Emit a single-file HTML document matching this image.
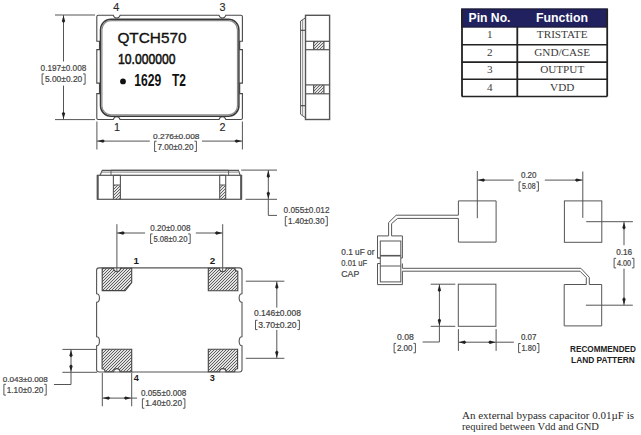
<!DOCTYPE html><html><head><meta charset="utf-8"><style>html,body{margin:0;padding:0;background:#fff;width:641px;height:435px;overflow:hidden}svg{display:block}</style></head><body>
<svg width="641" height="435" viewBox="0 0 641 435">
<defs><pattern id="h" patternUnits="userSpaceOnUse" x="0" y="0" width="3" height="3"><rect width="3" height="3" fill="#e2e2e2"/><rect x="2" y="0" width="1" height="1" fill="#5e5e5e"/><rect x="1" y="1" width="1" height="1" fill="#5e5e5e"/><rect x="0" y="2" width="1" height="1" fill="#5e5e5e"/></pattern><pattern id="h2" patternUnits="userSpaceOnUse" x="0" y="0" width="3" height="3"><rect width="3" height="3" fill="#e6e6e6"/><rect x="2" y="0" width="1" height="1" fill="#666"/><rect x="1" y="1" width="1" height="1" fill="#666"/><rect x="0" y="2" width="1" height="1" fill="#666"/></pattern></defs>
<rect width="641" height="435" fill="#fff"/>
<path d="M98.3,15.3 H113.3 C114.5,18.9 118.9,18.9 120.1,15.3 H219.0 C220.2,18.9 224.6,18.9 225.8,15.3 H240.9 Q242.4,15.3 242.4,16.8 V41.3 H239.7 V49.6 H242.4 V83.1 H239.7 V93.6 H242.4 V118.0 Q242.4,119.5 240.9,119.5 H225.8 C224.6,115.9 220.2,115.9 219.0,119.5 H120.1 C118.9,115.9 114.5,115.9 113.3,119.5 H98.3 Q96.8,119.5 96.8,118.0 V93.6 H99.5 V83.1 H96.8 V49.6 H99.5 V41.3 H96.8 V16.8 Q96.8,15.3 98.3,15.3 Z" fill="none" stroke="#484848" stroke-width="1.1"/>
<rect x="100.5" y="19.2" width="138.4" height="97.0" rx="10.5" ry="10.5" fill="#fff" stroke="#3a3a3a" stroke-width="1.5"/>
<rect x="101.9" y="20.6" width="135.6" height="94.2" rx="9.1" ry="9.1" fill="none" stroke="#8a8a8a" stroke-width="1.2"/>
<text x="117.4" y="43.2" font-family="Liberation Sans" font-size="15.36" font-weight="normal" fill="#111" text-anchor="start" textLength="69.2" lengthAdjust="spacingAndGlyphs" stroke="#111" stroke-width="0.35">QTCH570</text>
<text x="118" y="64.2" font-family="Liberation Sans" font-size="15.36" font-weight="normal" fill="#111" text-anchor="start" textLength="57.4" lengthAdjust="spacingAndGlyphs" stroke="#111" stroke-width="0.6">10.000000</text>
<circle cx="123" cy="81.4" r="2.9" fill="#111"/>
<text x="134.2" y="85.9" font-family="Liberation Sans" font-size="15.94" font-weight="bold" fill="#111" text-anchor="start" textLength="27" lengthAdjust="spacingAndGlyphs">1629</text>
<text x="172.0" y="85.9" font-family="Liberation Sans" font-size="15.94" font-weight="bold" fill="#111" text-anchor="start" textLength="14.0" lengthAdjust="spacingAndGlyphs">T2</text>
<text x="116.3" y="10.9" font-family="Liberation Sans" font-size="10.80" font-weight="normal" fill="#2a2a2a" text-anchor="middle" stroke="#2a2a2a" stroke-width="0.15">4</text>
<text x="222.4" y="10.9" font-family="Liberation Sans" font-size="10.80" font-weight="normal" fill="#2a2a2a" text-anchor="middle" stroke="#2a2a2a" stroke-width="0.15">3</text>
<text x="117.0" y="131.2" font-family="Liberation Sans" font-size="10.80" font-weight="normal" fill="#2a2a2a" text-anchor="middle" stroke="#2a2a2a" stroke-width="0.15">1</text>
<text x="222.5" y="131.2" font-family="Liberation Sans" font-size="10.80" font-weight="normal" fill="#2a2a2a" text-anchor="middle" stroke="#2a2a2a" stroke-width="0.15">2</text>
<line x1="55" y1="15.0" x2="95" y2="15.0" stroke="#555" stroke-width="1"/>
<line x1="55" y1="119.6" x2="95" y2="119.6" stroke="#555" stroke-width="1"/>
<line x1="63.5" y1="15" x2="63.5" y2="61.5" stroke="#555" stroke-width="1"/>
<line x1="63.5" y1="85.6" x2="63.5" y2="119.6" stroke="#555" stroke-width="1"/>
<polygon points="63.50,15.50 61.80,21.30 63.50,22.90 65.20,21.30" fill="#222"/>
<polygon points="63.50,119.10 61.80,113.30 63.50,111.70 65.20,113.30" fill="#222"/>
<text x="40.6" y="71.2" font-family="Liberation Sans" font-size="9.86" font-weight="normal" fill="#444" text-anchor="start" textLength="45.7" lengthAdjust="spacingAndGlyphs" stroke="#444" stroke-width="0.22">0.197±0.008</text>
<path d="M44.1,73.9 H42.1 V84.2 H44.1" fill="none" stroke="#444" stroke-width="0.9"/>
<path d="M83.1,73.9 H85.1 V84.2 H83.1" fill="none" stroke="#444" stroke-width="0.9"/>
<text x="44.9" y="82.2" font-family="Liberation Sans" font-size="8.70" font-weight="normal" fill="#444" text-anchor="start" textLength="37.4" lengthAdjust="spacingAndGlyphs" stroke="#444" stroke-width="0.22">5.00±0.20</text>
<line x1="96.9" y1="121.5" x2="96.9" y2="149.5" stroke="#555" stroke-width="1"/>
<line x1="242.4" y1="121.5" x2="242.4" y2="149.5" stroke="#555" stroke-width="1"/>
<line x1="96.9" y1="141.1" x2="149.8" y2="141.1" stroke="#555" stroke-width="1"/>
<line x1="202" y1="141.1" x2="242.4" y2="141.1" stroke="#555" stroke-width="1"/>
<polygon points="97.40,141.10 103.20,139.40 104.80,141.10 103.20,142.80" fill="#222"/>
<polygon points="241.90,141.10 236.10,139.40 234.50,141.10 236.10,142.80" fill="#222"/>
<text x="153.1" y="138.6" font-family="Liberation Sans" font-size="7.98" font-weight="normal" fill="#444" text-anchor="start" textLength="46.4" lengthAdjust="spacingAndGlyphs" stroke="#444" stroke-width="0.22">0.276±0.008</text>
<path d="M156.6,141.2 H154.6 V151.5 H156.6" fill="none" stroke="#444" stroke-width="0.9"/>
<path d="M194.4,141.2 H196.4 V151.5 H194.4" fill="none" stroke="#444" stroke-width="0.9"/>
<text x="157.4" y="149.5" font-family="Liberation Sans" font-size="8.70" font-weight="normal" fill="#444" text-anchor="start" textLength="36.2" lengthAdjust="spacingAndGlyphs" stroke="#444" stroke-width="0.22">7.00±0.20</text>
<rect x="305.5" y="15.3" width="24.1" height="104.2" fill="none" stroke="#555" stroke-width="1.4"/>
<path d="M305.5,17.8 L300.6,21 V114.3 L305.5,117.8" fill="none" stroke="#555" stroke-width="1"/>
<line x1="302.7" y1="19.6" x2="302.7" y2="115.7" stroke="#777" stroke-width="0.9"/>
<line x1="300.6" y1="30.3" x2="305.5" y2="30.3" stroke="#444" stroke-width="1.1"/>
<line x1="300.6" y1="105.7" x2="305.5" y2="105.7" stroke="#444" stroke-width="1.1"/>
<rect x="313.6" y="41.3" width="10.3" height="8.4" fill="url(#h2)"/>
<line x1="305.5" y1="41.3" x2="329.6" y2="41.3" stroke="#555" stroke-width="1.2"/>
<line x1="305.5" y1="49.7" x2="329.6" y2="49.7" stroke="#555" stroke-width="1.2"/>
<line x1="313.6" y1="41.3" x2="313.6" y2="49.7" stroke="#555" stroke-width="1.2"/>
<line x1="323.9" y1="41.3" x2="323.9" y2="49.7" stroke="#555" stroke-width="1.2"/>
<rect x="313.6" y="84.9" width="10.3" height="8.9" fill="url(#h2)"/>
<line x1="305.5" y1="84.9" x2="329.6" y2="84.9" stroke="#555" stroke-width="1.2"/>
<line x1="305.5" y1="93.8" x2="329.6" y2="93.8" stroke="#555" stroke-width="1.2"/>
<line x1="313.6" y1="84.9" x2="313.6" y2="93.8" stroke="#555" stroke-width="1.2"/>
<line x1="323.9" y1="84.9" x2="323.9" y2="93.8" stroke="#555" stroke-width="1.2"/>
<rect x="461.8" y="9" width="145.4" height="18" fill="#21215f" stroke="#1c1c3c" stroke-width="1.4"/>
<text x="489.5" y="21.8" font-family="Liberation Sans" font-size="12.32" font-weight="bold" fill="#fff" text-anchor="middle" textLength="41.9" lengthAdjust="spacingAndGlyphs">Pin No.</text>
<text x="562" y="21.8" font-family="Liberation Sans" font-size="12.32" font-weight="bold" fill="#fff" text-anchor="middle" textLength="52" lengthAdjust="spacingAndGlyphs">Function</text>
<line x1="461.8" y1="44.8" x2="607.2" y2="44.8" stroke="#222" stroke-width="1.6"/>
<line x1="461.8" y1="62.1" x2="607.2" y2="62.1" stroke="#222" stroke-width="1.6"/>
<line x1="461.8" y1="79.3" x2="607.2" y2="79.3" stroke="#222" stroke-width="1.6"/>
<line x1="461.8" y1="96.5" x2="607.2" y2="96.5" stroke="#222" stroke-width="1.6"/>
<path d="M462.0,9 V96.5 M607.2,9 V96.5 M517.3,27 V96.5" stroke="#222" stroke-width="1.8" fill="none"/>
<text x="489.8" y="38.3" font-family="Liberation Serif" font-size="11.20" font-weight="normal" fill="#3a3a3a" text-anchor="middle">1</text>
<text x="562.2" y="38.3" font-family="Liberation Serif" font-size="11.20" font-weight="normal" fill="#3a3a3a" text-anchor="middle">TRISTATE</text>
<text x="489.8" y="56.1" font-family="Liberation Serif" font-size="11.20" font-weight="normal" fill="#3a3a3a" text-anchor="middle">2</text>
<text x="562.2" y="56.1" font-family="Liberation Serif" font-size="11.20" font-weight="normal" fill="#3a3a3a" text-anchor="middle">GND/CASE</text>
<text x="489.8" y="73.4" font-family="Liberation Serif" font-size="11.20" font-weight="normal" fill="#3a3a3a" text-anchor="middle">3</text>
<text x="562.2" y="73.4" font-family="Liberation Serif" font-size="11.20" font-weight="normal" fill="#3a3a3a" text-anchor="middle">OUTPUT</text>
<text x="489.8" y="90.6" font-family="Liberation Serif" font-size="11.20" font-weight="normal" fill="#3a3a3a" text-anchor="middle">4</text>
<text x="562.2" y="90.6" font-family="Liberation Serif" font-size="11.20" font-weight="normal" fill="#3a3a3a" text-anchor="middle">VDD</text>
<rect x="97.5" y="175.3" width="143.7" height="24" fill="none" stroke="#555" stroke-width="1.2"/>
<line x1="97.7" y1="175" x2="97.7" y2="199.6" stroke="#555" stroke-width="2"/>
<line x1="241.2" y1="175" x2="241.2" y2="199.6" stroke="#555" stroke-width="2"/>
<path d="M100,175.3 L102.3,170.4 H238.4 L240.2,175.3" fill="none" stroke="#555" stroke-width="1.1"/>
<line x1="111" y1="170.4" x2="228.6" y2="170.4" stroke="#555" stroke-width="1.1"/>
<line x1="101.6" y1="172.1" x2="238.6" y2="172.1" stroke="#999" stroke-width="1.2"/>
<line x1="111" y1="170.4" x2="111" y2="175.3" stroke="#555" stroke-width="0.9"/>
<line x1="228.6" y1="170.4" x2="228.6" y2="175.3" stroke="#555" stroke-width="0.9"/>
<rect x="113.4" y="185" width="7.0" height="14.3" fill="url(#h2)"/>
<rect x="113.4" y="175.3" width="7.0" height="24" fill="none" stroke="#555" stroke-width="1.1"/>
<line x1="113.4" y1="185" x2="120.4" y2="185" stroke="#555" stroke-width="1"/>
<rect x="219.7" y="185" width="6.0" height="14.3" fill="url(#h2)"/>
<rect x="219.7" y="175.3" width="6.0" height="24" fill="none" stroke="#555" stroke-width="1.1"/>
<line x1="219.7" y1="185" x2="225.7" y2="185" stroke="#555" stroke-width="1"/>
<line x1="241.2" y1="170.1" x2="277" y2="170.1" stroke="#555" stroke-width="1"/>
<line x1="245.5" y1="199.3" x2="277" y2="199.3" stroke="#555" stroke-width="1"/>
<path d="M268.3,170.1 V215.4 H277" fill="none" stroke="#555" stroke-width="1"/>
<polygon points="268.30,170.60 266.60,176.40 268.30,178.00 270.00,176.40" fill="#222"/>
<polygon points="268.30,198.80 266.60,193.00 268.30,191.40 270.00,193.00" fill="#222"/>
<text x="283.6" y="213.2" font-family="Liberation Sans" font-size="9.70" font-weight="normal" fill="#444" text-anchor="start" textLength="45.9" lengthAdjust="spacingAndGlyphs" stroke="#444" stroke-width="0.22">0.055±0.012</text>
<path d="M287.3,216.6 H285.3 V225.9 H287.3" fill="none" stroke="#444" stroke-width="0.9"/>
<path d="M325.3,216.6 H327.3 V225.9 H325.3" fill="none" stroke="#444" stroke-width="0.9"/>
<text x="288.1" y="223.9" font-family="Liberation Sans" font-size="8.70" font-weight="normal" fill="#444" text-anchor="start" textLength="36.4" lengthAdjust="spacingAndGlyphs" stroke="#444" stroke-width="0.22">1.40±0.30</text>
<path d="M99.1,267.9 H239.5 Q242.0,267.9 242.0,270.4 V293.8 C238.2,293.8 238.2,302.2 242.0,302.2 V336.7 C238.2,336.7 238.2,345.8 242.0,345.8 V369.5 Q242.0,372.0 239.5,372.0 H99.1 Q96.6,372.0 96.6,369.5 V345.8 C100.4,345.8 100.4,336.7 96.6,336.7 V302.2 C100.4,302.2 100.4,293.8 96.6,293.8 V270.4 Q96.6,267.9 99.1,267.9 Z" fill="none" stroke="#555" stroke-width="1.1"/>
<path d="M102.2,268.2 H113.4 C114.4,273.0 119.6,273.0 120.6,268.2 H131.7 V282.6 L125.2,290.6 H102.2 Z" fill="url(#h)" stroke="#444" stroke-width="1.1"/>
<path d="M208.3,268.2 H219.2 C220.2,273.0 225.4,273.0 226.4,268.2 H234.8 Q234.8,271.2 237.8,271.2 V290.7 H208.3 Z" fill="url(#h)" stroke="#444" stroke-width="1.1"/>
<path d="M102.1,349.2 H131.7 V371.8 H120.0 A3.2,3.2 0 0 0 113.6,371.8 H105.1 Q105.1,368.8 102.1,368.8 Z" fill="url(#h)" stroke="#444" stroke-width="1.1"/>
<path d="M208.3,349.3 H237.6 V368.8 Q234.6,368.8 234.6,371.8 H226.0 A3.2,3.2 0 0 0 219.6,371.8 H208.3 Z" fill="url(#h)" stroke="#444" stroke-width="1.1"/>
<text x="136.2" y="263.7" font-family="Liberation Sans" font-size="9.86" font-weight="bold" fill="#1a1a1a" text-anchor="middle">1</text>
<text x="212.5" y="263.7" font-family="Liberation Sans" font-size="9.86" font-weight="bold" fill="#1a1a1a" text-anchor="middle">2</text>
<text x="136.2" y="381.2" font-family="Liberation Sans" font-size="9.13" font-weight="bold" fill="#1a1a1a" text-anchor="middle">4</text>
<text x="212.4" y="381.2" font-family="Liberation Sans" font-size="9.13" font-weight="bold" fill="#1a1a1a" text-anchor="middle">3</text>
<line x1="116.9" y1="224.2" x2="116.9" y2="271.5" stroke="#555" stroke-width="1"/>
<line x1="222.7" y1="224.2" x2="222.7" y2="271.5" stroke="#555" stroke-width="1"/>
<line x1="116.9" y1="233" x2="145.1" y2="233" stroke="#555" stroke-width="1"/>
<line x1="195.8" y1="233" x2="222.7" y2="233" stroke="#555" stroke-width="1"/>
<polygon points="117.40,233.00 123.20,231.30 124.80,233.00 123.20,234.70" fill="#222"/>
<polygon points="222.20,233.00 216.40,231.30 214.80,233.00 216.40,234.70" fill="#222"/>
<text x="150.2" y="230.8" font-family="Liberation Sans" font-size="9.23" font-weight="normal" fill="#444" text-anchor="start" textLength="40.4" lengthAdjust="spacingAndGlyphs" stroke="#444" stroke-width="0.22">0.20±0.008</text>
<path d="M152.6,233.9 H150.6 V243.5 H152.6" fill="none" stroke="#444" stroke-width="0.9"/>
<path d="M188.2,233.9 H190.2 V243.5 H188.2" fill="none" stroke="#444" stroke-width="0.9"/>
<text x="153.4" y="241.5" font-family="Liberation Sans" font-size="8.70" font-weight="normal" fill="#444" text-anchor="start" textLength="34" lengthAdjust="spacingAndGlyphs" stroke="#444" stroke-width="0.22">5.08±0.20</text>
<line x1="245.8" y1="281.2" x2="284.4" y2="281.2" stroke="#555" stroke-width="1"/>
<line x1="245.8" y1="358.3" x2="284.4" y2="358.3" stroke="#555" stroke-width="1"/>
<line x1="276.8" y1="281.2" x2="276.8" y2="307.6" stroke="#555" stroke-width="1"/>
<line x1="276.8" y1="329.9" x2="276.8" y2="358.3" stroke="#555" stroke-width="1"/>
<polygon points="276.80,281.70 275.10,287.50 276.80,289.10 278.50,287.50" fill="#222"/>
<polygon points="276.80,357.80 275.10,352.00 276.80,350.40 278.50,352.00" fill="#222"/>
<text x="254.0" y="316.4" font-family="Liberation Sans" font-size="8.45" font-weight="normal" fill="#444" text-anchor="start" textLength="47.0" lengthAdjust="spacingAndGlyphs" stroke="#444" stroke-width="0.22">0.146±0.008</text>
<path d="M257.5,320.3 H255.5 V329.6 H257.5" fill="none" stroke="#444" stroke-width="0.9"/>
<path d="M297.4,320.3 H299.4 V329.6 H297.4" fill="none" stroke="#444" stroke-width="0.9"/>
<text x="258.3" y="327.6" font-family="Liberation Sans" font-size="8.70" font-weight="normal" fill="#444" text-anchor="start" textLength="38.3" lengthAdjust="spacingAndGlyphs" stroke="#444" stroke-width="0.22">3.70±0.20</text>
<line x1="62.4" y1="349.4" x2="97" y2="349.4" stroke="#555" stroke-width="1"/>
<line x1="62.4" y1="372.3" x2="97" y2="372.3" stroke="#555" stroke-width="1"/>
<path d="M71,349.4 V384.5 H54" fill="none" stroke="#555" stroke-width="1"/>
<polygon points="71.00,349.90 69.30,355.70 71.00,357.30 72.70,355.70" fill="#222"/>
<polygon points="71.00,371.80 69.30,366.00 71.00,364.40 72.70,366.00" fill="#222"/>
<text x="2.7" y="382.2" font-family="Liberation Sans" font-size="7.98" font-weight="normal" fill="#444" text-anchor="start" textLength="45.1" lengthAdjust="spacingAndGlyphs" stroke="#444" stroke-width="0.22">0.043±0.008</text>
<path d="M5.9,384.3 H3.9 V395.1 H5.9" fill="none" stroke="#444" stroke-width="0.9"/>
<path d="M44.2,384.3 H46.2 V395.1 H44.2" fill="none" stroke="#444" stroke-width="0.9"/>
<text x="6.7" y="393.1" font-family="Liberation Sans" font-size="8.70" font-weight="normal" fill="#444" text-anchor="start" textLength="36.7" lengthAdjust="spacingAndGlyphs" stroke="#444" stroke-width="0.22">1.10±0.20</text>
<line x1="102.3" y1="373" x2="102.3" y2="406.3" stroke="#555" stroke-width="1"/>
<line x1="131.7" y1="373" x2="131.7" y2="406.3" stroke="#555" stroke-width="1"/>
<line x1="102.3" y1="398.1" x2="137.1" y2="398.1" stroke="#555" stroke-width="1"/>
<polygon points="102.80,398.10 108.60,396.40 110.20,398.10 108.60,399.80" fill="#222"/>
<polygon points="131.20,398.10 125.40,396.40 123.80,398.10 125.40,399.80" fill="#222"/>
<text x="141.0" y="395.9" font-family="Liberation Sans" font-size="8.45" font-weight="normal" fill="#444" text-anchor="start" textLength="45.3" lengthAdjust="spacingAndGlyphs" stroke="#444" stroke-width="0.22">0.055±0.008</text>
<path d="M144.4,398.8 H142.4 V408.2 H144.4" fill="none" stroke="#444" stroke-width="0.9"/>
<path d="M182.9,398.8 H184.9 V408.2 H182.9" fill="none" stroke="#444" stroke-width="0.9"/>
<text x="145.2" y="406.2" font-family="Liberation Sans" font-size="8.70" font-weight="normal" fill="#444" text-anchor="start" textLength="36.9" lengthAdjust="spacingAndGlyphs" stroke="#444" stroke-width="0.22">1.40±0.20</text>
<rect x="564.4" y="200.9" width="37.4" height="41.4" fill="#fff" stroke="#555" stroke-width="1"/>
<rect x="458.3" y="284.2" width="37.6" height="42.1" fill="#fff" stroke="#555" stroke-width="1"/>
<path d="M458.4,215.2 V200.9 H496.1 V242.1 H458.4 V218.4" fill="none" stroke="#555" stroke-width="1"/>
<path d="M586.3,284.5 H564.2 V325.9 H601.7 V284.5 H589.3" fill="none" stroke="#555" stroke-width="1"/>
<line x1="477.3" y1="171" x2="477.3" y2="218.2" stroke="#555" stroke-width="1"/>
<line x1="582.8" y1="171.5" x2="582.8" y2="217.9" stroke="#555" stroke-width="1"/>
<line x1="586.2" y1="221.7" x2="632.9" y2="221.7" stroke="#555" stroke-width="1"/>
<line x1="585.9" y1="305.2" x2="632.8" y2="305.2" stroke="#555" stroke-width="1"/>
<line x1="477.3" y1="180.1" x2="513.7" y2="180.1" stroke="#555" stroke-width="1"/>
<line x1="544.8" y1="180.1" x2="582.8" y2="180.1" stroke="#555" stroke-width="1"/>
<polygon points="477.80,180.10 483.60,178.40 485.20,180.10 483.60,181.80" fill="#222"/>
<polygon points="582.30,180.10 576.50,178.40 574.90,180.10 576.50,181.80" fill="#222"/>
<text x="520.9" y="178.2" font-family="Liberation Sans" font-size="8.61" font-weight="normal" fill="#444" text-anchor="start" textLength="15.7" lengthAdjust="spacingAndGlyphs" stroke="#444" stroke-width="0.22">0.20</text>
<path d="M521.1,181.9 H519.1 V191.1 H521.1" fill="none" stroke="#444" stroke-width="0.9"/>
<path d="M536.4,181.9 H538.4 V191.1 H536.4" fill="none" stroke="#444" stroke-width="0.9"/>
<text x="521.9" y="189.1" font-family="Liberation Sans" font-size="8.70" font-weight="normal" fill="#444" text-anchor="start" textLength="13.7" lengthAdjust="spacingAndGlyphs" stroke="#444" stroke-width="0.22">5.08</text>
<line x1="624.0" y1="221.7" x2="624.0" y2="245.2" stroke="#555" stroke-width="1"/>
<line x1="624.0" y1="268.7" x2="624.0" y2="305.2" stroke="#555" stroke-width="1"/>
<polygon points="624.00,222.20 622.30,228.00 624.00,229.60 625.70,228.00" fill="#222"/>
<polygon points="624.00,304.70 622.30,298.90 624.00,297.30 625.70,298.90" fill="#222"/>
<text x="616.2" y="255.2" font-family="Liberation Sans" font-size="8.30" font-weight="normal" fill="#444" text-anchor="start" textLength="16.0" lengthAdjust="spacingAndGlyphs" stroke="#444" stroke-width="0.22">0.16</text>
<path d="M616.1,258.3 H614.1 V267.9 H616.1" fill="none" stroke="#444" stroke-width="0.9"/>
<path d="M631.9,258.3 H633.9 V267.9 H631.9" fill="none" stroke="#444" stroke-width="0.9"/>
<text x="616.9" y="265.9" font-family="Liberation Sans" font-size="8.70" font-weight="normal" fill="#444" text-anchor="start" textLength="14.2" lengthAdjust="spacingAndGlyphs" stroke="#444" stroke-width="0.22">4.00</text>
<line x1="430.7" y1="284.2" x2="455.3" y2="284.2" stroke="#555" stroke-width="1"/>
<line x1="430.7" y1="326.3" x2="455.3" y2="326.3" stroke="#555" stroke-width="1"/>
<path d="M439.4,284.2 V342 H422.6" fill="none" stroke="#555" stroke-width="1"/>
<polygon points="439.40,284.70 437.70,290.50 439.40,292.10 441.10,290.50" fill="#222"/>
<polygon points="439.40,325.80 437.70,320.00 439.40,318.40 441.10,320.00" fill="#222"/>
<text x="397.0" y="340.4" font-family="Liberation Sans" font-size="9.55" font-weight="normal" fill="#444" text-anchor="start" textLength="16.8" lengthAdjust="spacingAndGlyphs" stroke="#444" stroke-width="0.22">0.08</text>
<path d="M396.1,343.4 H394.1 V352.8 H396.1" fill="none" stroke="#444" stroke-width="0.9"/>
<path d="M413.4,343.4 H415.4 V352.8 H413.4" fill="none" stroke="#444" stroke-width="0.9"/>
<text x="396.9" y="350.8" font-family="Liberation Sans" font-size="8.70" font-weight="normal" fill="#444" text-anchor="start" textLength="15.7" lengthAdjust="spacingAndGlyphs" stroke="#444" stroke-width="0.22">2.00</text>
<line x1="458.4" y1="329.1" x2="458.4" y2="350.9" stroke="#555" stroke-width="1"/>
<line x1="496.1" y1="329.1" x2="496.1" y2="350.9" stroke="#555" stroke-width="1"/>
<line x1="458.4" y1="342.2" x2="513.9" y2="342.2" stroke="#555" stroke-width="1"/>
<polygon points="458.90,342.20 464.70,340.50 466.30,342.20 464.70,343.90" fill="#222"/>
<polygon points="495.60,342.20 489.80,340.50 488.20,342.20 489.80,343.90" fill="#222"/>
<text x="520.9" y="340.2" font-family="Liberation Sans" font-size="8.45" font-weight="normal" fill="#444" text-anchor="start" textLength="15.5" lengthAdjust="spacingAndGlyphs" stroke="#444" stroke-width="0.22">0.07</text>
<path d="M520.6,343.5 H518.6 V352.6 H520.6" fill="none" stroke="#444" stroke-width="0.9"/>
<path d="M536.9,343.5 H538.9 V352.6 H536.9" fill="none" stroke="#444" stroke-width="0.9"/>
<text x="521.4" y="350.6" font-family="Liberation Sans" font-size="8.70" font-weight="normal" fill="#444" text-anchor="start" textLength="14.7" lengthAdjust="spacingAndGlyphs" stroke="#444" stroke-width="0.22">1.80</text>
<path d="M458.4,215.2 H396.2 L388.6,222.6 V235.9 H377.5 V258 H380.3 M402.4,258 V235.9 H391.6 V223.6 L397.6,218.4 H458.4" fill="none" stroke="#585858" stroke-width="1"/>
<path d="M380.3,263.5 H377.5 V284.6 H402.4 V271.2 H580 L586.3,277.5 V284.5 M402.4,263.5 V268.3 H580.9 L589.3,277.3 V284.5" fill="none" stroke="#585858" stroke-width="1"/>
<rect x="380.3" y="241" width="20.5" height="40.9" fill="none" stroke="#585858" stroke-width="1"/>
<line x1="380.3" y1="255.7" x2="400.8" y2="255.7" stroke="#585858" stroke-width="1.6"/>
<line x1="380.3" y1="266" x2="400.8" y2="266" stroke="#585858" stroke-width="1"/>
<line x1="377.5" y1="258" x2="380.3" y2="258" stroke="#585858" stroke-width="1"/>
<line x1="400.8" y1="258" x2="402.4" y2="258" stroke="#585858" stroke-width="1"/>
<text x="341.3" y="254.9" font-family="Liberation Sans" font-size="8.77" font-weight="normal" fill="#444" text-anchor="start" textLength="33.1" lengthAdjust="spacingAndGlyphs" stroke="#444" stroke-width="0.22">0.1 uF or</text>
<text x="341.3" y="265.9" font-family="Liberation Sans" font-size="9.41" font-weight="normal" fill="#444" text-anchor="start" textLength="25.9" lengthAdjust="spacingAndGlyphs" stroke="#444" stroke-width="0.22">0.01 uF</text>
<text x="341.3" y="277.0" font-family="Liberation Sans" font-size="9.57" font-weight="normal" fill="#444" text-anchor="start" textLength="17.9" lengthAdjust="spacingAndGlyphs" stroke="#444" stroke-width="0.22">CAP</text>
<text x="570.1" y="352.1" font-family="Liberation Sans" font-size="8.55" font-weight="bold" fill="#222" text-anchor="start" textLength="65.8" lengthAdjust="spacingAndGlyphs">RECOMMENDED</text>
<text x="571.1" y="362.6" font-family="Liberation Sans" font-size="8.84" font-weight="bold" fill="#222" text-anchor="start" textLength="63.7" lengthAdjust="spacingAndGlyphs">LAND PATTERN</text>
<text x="462" y="418.6" font-family="Liberation Serif" font-size="10.8" fill="#2a2a2a" textLength="172" lengthAdjust="spacingAndGlyphs">An external bypass capacitor 0.01µF is</text>
<text x="462" y="430.2" font-family="Liberation Serif" font-size="10.8" fill="#2a2a2a" textLength="137" lengthAdjust="spacingAndGlyphs">required between Vdd and GND</text>
</svg></body></html>
